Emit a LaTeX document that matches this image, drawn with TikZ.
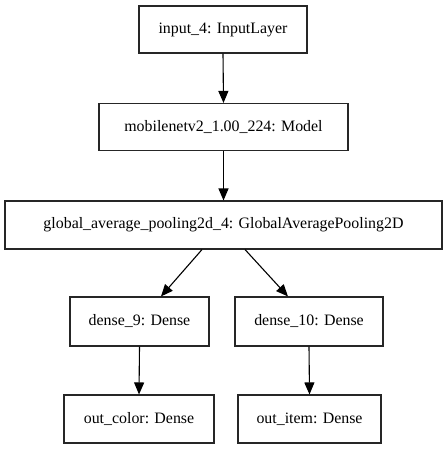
\documentclass[tikz,border=0pt]{standalone}
\usepackage{fontspec}
\setmainfont{Liberation Serif}
\usetikzlibrary{arrows.meta}
\begin{document}
\begin{tikzpicture}[x=1pt,y=-1pt,
  layer/.style={draw=black!85, line width=1.1pt, inner sep=0pt, font=\fontsize{15.9}{18}\selectfont, anchor=center},
  conn/.style={draw=black, line width=1.1pt, -{Triangle[length=12pt,width=10pt]}}]
\useasboundingbox (0,0) rectangle (447,449);
\node[layer, minimum width=168pt, minimum height=47pt] (in) at (223,29.5) {input\_4: InputLayer};
\node[layer, minimum width=249pt, minimum height=47pt] (mb) at (223.5,127) {mobilenetv2\_1.00\_224: Model};
\node[layer, minimum width=437pt, minimum height=48pt] (gp) at (223.5,225) {global\_average\_pooling2d\_4: GlobalAveragePooling2D};
\node[layer, minimum width=139pt, minimum height=49pt] (d9) at (139.5,321.5) {dense\_9: Dense};
\node[layer, minimum width=148pt, minimum height=49pt] (d10) at (309,321.5) {dense\_10: Dense};
\node[layer, minimum width=150pt, minimum height=48pt] (oc) at (139,419) {out\_color: Dense};
\node[layer, minimum width=143pt, minimum height=48pt] (oi) at (309.5,419) {out\_item: Dense};
\draw[conn] (in.south) -- (mb.north);
\draw[conn] (mb.south) -- (gp.north);
\draw[conn] ([xshift=-21.5pt]gp.south) -- ([xshift=21.5pt]d9.north);
\draw[conn] ([xshift=21.5pt]gp.south) -- ([xshift=-21pt]d10.north);
\draw[conn] (d9.south) -- (oc.north);
\draw[conn] (d10.south) -- (oi.north);
\end{tikzpicture}
\end{document}
